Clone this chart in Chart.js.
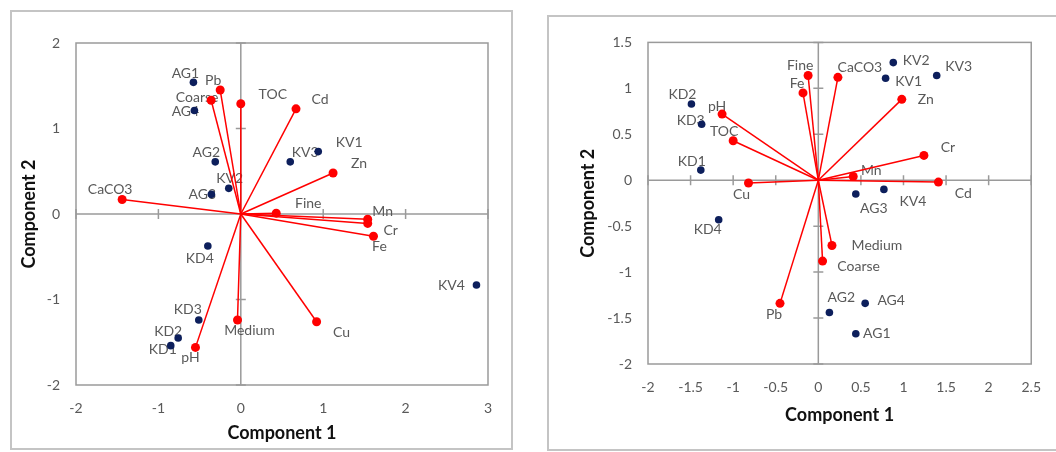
<!DOCTYPE html>
<html>
<head>
<meta charset="utf-8">
<script src="https://cdn.jsdelivr.net/npm/chart.js@4/dist/chart.umd.min.js"></script>
<style>
  html, body { margin: 0; padding: 0; background: #fff; }
  body { width: 1056px; height: 452px; overflow: hidden; position: relative; }
  .frame { position: absolute; box-sizing: border-box; border: 2px solid #c4c4c4; background: #fff; }
  #frameA { left: 10px; top: 10px; width: 503px; height: 440px; }
  #frameB { left: 547px; top: 15px; width: 540px; height: 436px; }
  canvas { position: absolute; }
  #chartA { left: 12px; top: 12px; }
  #chartB { left: 550px; top: 18px; }
</style>
</head>
<body>
<div class="frame" id="frameA"></div>
<div class="frame" id="frameB"></div>
<canvas id="chartA" width="498" height="436"></canvas>
<canvas id="chartB" width="506" height="434"></canvas>
<script>
// ---- Panel A: loadings and scores ----
const samplesA = ['AG1', 'AG4', 'AG2', 'KV2', 'AG3', 'KV3', 'KV1', 'KD4', 'KD3', 'KD2', 'KD1', 'KV4'];
const samplesA_c1 = [-0.575, -0.563, -0.31, -0.146, -0.357, 0.60, 0.94, -0.40, -0.51, -0.76, -0.85, 2.86];
const samplesA_c2 = [1.54, 1.21, 0.61, 0.30, 0.23, 0.61, 0.73, -0.375, -1.24, -1.45, -1.54, -0.83];

const varsA = ['Pb', 'Coarse', 'TOC', 'Cd', 'Zn', 'Fine', 'Mn', 'Cr', 'Fe', 'CaCO3', 'Medium', 'Cu', 'pH'];
const varsA_c1 = [-0.25, -0.36, 0.0, 0.67, 1.12, 0.43, 1.54, 1.54, 1.61, -1.44, -0.04, 0.92, -0.55];
const varsA_c2 = [1.45, 1.33, 1.29, 1.23, 0.48, 0.01, -0.06, -0.11, -0.26, 0.17, -1.24, -1.26, -1.56];

const ticksA_x = [-2, -1, 0, 1, 2, 3];
const ticksA_y = [-2, -1, 0, 1, 2];

// ---- Panel B: loadings and scores ----
const samplesB = ['KD2', 'KD3', 'KD1', 'KD4', 'KV2', 'KV1', 'KV3', 'AG3', 'KV4', 'AG2', 'AG4', 'AG1'];
const samplesB_c1 = [-1.49, -1.37, -1.38, -1.17, 0.88, 0.79, 1.39, 0.44, 0.77, 0.13, 0.55, 0.44];
const samplesB_c2 = [0.83, 0.61, 0.11, -0.43, 1.28, 1.11, 1.14, -0.15, -0.10, -1.44, -1.34, -1.67];

const varsB = ['Fine', 'Fe', 'CaCO3', 'pH', 'TOC', 'Cu', 'Zn', 'Cr', 'Mn', 'Cd', 'Medium', 'Coarse', 'Pb'];
const varsB_c1 = [-0.12, -0.18, 0.23, -1.13, -1.00, -0.82, 0.98, 1.24, 0.41, 1.41, 0.16, 0.05, -0.45];
const varsB_c2 = [1.14, 0.95, 1.12, 0.72, 0.43, -0.03, 0.88, 0.27, 0.04, -0.02, -0.71, -0.88, -1.34];

const ticksB_x = [-2, -1.5, -1, -0.5, 0, 0.5, 1, 1.5, 2, 2.5];
const ticksB_y = [-2, -1.5, -1, -0.5, 0, 0.5, 1, 1.5];

// ---- Label placement (pixel shift of each label centre from its marker) ----
const shiftSamplesA = [[-8,-9],[-9,1],[-9,-9],[1,-10],[-9,0],[15,-9],[31,-9],[-8,12],[-11,-11],[-10,-6],[-8,4],[-25,1]];
const shiftVarsA = [[-7,-10],[-14,-3],[32,-9],[24,-9],[26,-9],[32,-10],[15,-8],[23,7],[6,10],[-12,-10],[12,10],[25,11],[-5,10]];
const shiftSamplesB = [[-9,-9],[-11,-4],[-9,-9],[-11,10],[23,-2],[23,3],[22,-9],[18,14],[29,12],[12,-15],[26,-3],[21,0]];
const shiftVarsB = [[-8,-10],[-6,-9],[22,-10],[-5,-8],[-9,-9],[-7,11],[24,0],[24,-8],[18,-6],[25,11],[45,0],[36,5],[-6,11]];

// ---- Styles ----
const RED = '#ff0000';
const NAVY = '#0d1f5c';
const AXIS = '#9a9a9a';
const TEXT = '#595959';
const FONT = 'Lato';

// Plot-area border plus the two zero axes with cross tick marks
const crossAxes = {
  id: 'crossAxes',
  beforeDatasetsDraw(chart) {
    const { ctx, chartArea: a, scales: { x, y } } = chart;
    ctx.save();
    ctx.strokeStyle = AXIS;
    ctx.lineWidth = 1.5;
    ctx.strokeRect(a.left, a.top, a.right - a.left, a.bottom - a.top);
    const x0 = x.getPixelForValue(0);
    const y0 = y.getPixelForValue(0);
    const t = 5;
    ctx.beginPath();
    ctx.moveTo(a.left, y0); ctx.lineTo(a.right, y0);
    ctx.moveTo(x0, a.top); ctx.lineTo(x0, a.bottom);
    x.ticks.forEach(tk => {
      if (tk.value === 0) return;
      const px = x.getPixelForValue(tk.value);
      ctx.moveTo(px, y0 - t); ctx.lineTo(px, y0 + t);
    });
    y.ticks.forEach(tk => {
      if (tk.value === 0) return;
      const py = y.getPixelForValue(tk.value);
      ctx.moveTo(x0 - t, py); ctx.lineTo(x0 + t, py);
    });
    ctx.stroke();
    ctx.restore();
  }
};

// Text labels beside markers, drawn beneath the marks
const pointTags = {
  id: 'pointTags',
  beforeDatasetsDraw(chart) {
    const ctx = chart.ctx;
    ctx.save();
    ctx.font = '14px ' + FONT;
    ctx.fillStyle = TEXT;
    ctx.textAlign = 'center';
    ctx.textBaseline = 'middle';
    chart.data.datasets.forEach((ds, i) => {
      if (!ds.tags) return;
      const meta = chart.getDatasetMeta(i);
      ds.tags.forEach((tag, j) => {
        if (!tag) return;
        const el = meta.data[j];
        const s = ds.tagShift[j];
        ctx.fillText(tag, el.x + s[0], el.y + s[1]);
      });
    });
    ctx.restore();
  }
};

function vectorSets(names, c1, c2, shifts) {
  return names.map((n, i) => ({
    data: [{ x: 0, y: 0 }, { x: c1[i], y: c2[i] }],
    showLine: true,
    borderColor: RED,
    borderWidth: 1.5,
    pointRadius: [0, 4.5],
    pointHoverRadius: [0, 4.5],
    pointBackgroundColor: RED,
    pointBorderWidth: 0,
    tags: [null, n],
    tagShift: [null, shifts[i]]
  }));
}

function sampleSet(names, c1, c2, shifts) {
  return {
    data: names.map((n, i) => ({ x: c1[i], y: c2[i] })),
    showLine: false,
    pointRadius: 3.8,
    pointBackgroundColor: NAVY,
    pointBorderWidth: 0,
    tags: names,
    tagShift: shifts
  };
}

function axis(ticks, size, titleText, titlePad, tickPad, horizontal) {
  return {
    type: 'linear',
    min: ticks[0],
    max: ticks[ticks.length - 1],
    afterBuildTicks: s => { s.ticks = ticks.map(v => ({ value: v })); },
    afterFit: s => { if (horizontal) s.height = size; else s.width = size; },
    grid: { display: false, drawTicks: false },
    border: { display: false },
    ticks: {
      padding: tickPad,
      color: TEXT,
      autoSkip: false,
      maxRotation: 0,
      font: { family: FONT, size: 14 },
      callback: v => String(v)
    },
    title: {
      display: true,
      text: titleText,
      color: '#111',
      font: { family: FONT, size: 18, weight: 'bold' },
      padding: titlePad
    }
  };
}

function makeChart(id, datasets, tx, ty, xh, yw, xTitlePad, yTitlePad, pad) {
  return new Chart(document.getElementById(id), {
    type: 'scatter',
    data: { datasets },
    options: {
      responsive: false,
      animation: false,
      events: [],
      layout: { padding: pad },
      plugins: { legend: { display: false }, tooltip: { enabled: false } },
      scales: {
        x: axis(tx, xh, 'Component 1', xTitlePad, 15, true),
        y: axis(ty, yw, 'Component 2', yTitlePad, 16, false)
      }
    },
    plugins: [crossAxes, pointTags]
  });
}

makeChart('chartA',
  [sampleSet(samplesA, samplesA_c1, samplesA_c2, shiftSamplesA)]
    .concat(vectorSets(varsA, varsA_c1, varsA_c2, shiftVarsA)),
  ticksA_x, ticksA_y, 63, 64,
  { top: 0, bottom: 4 }, { top: 6, bottom: 0 },
  { left: 0, top: 31, right: 22, bottom: 0 });

makeChart('chartB',
  [sampleSet(samplesB, samplesB_c1, samplesB_c2, shiftSamplesB)]
    .concat(vectorSets(varsB, varsB_c1, varsB_c2, shiftVarsB)),
  ticksB_x, ticksB_y, 66, 98,
  { top: 0, bottom: 4 }, { top: 27, bottom: 0 },
  { left: 0, top: 24, right: 24, bottom: 22 });
</script>
</body>
</html>
